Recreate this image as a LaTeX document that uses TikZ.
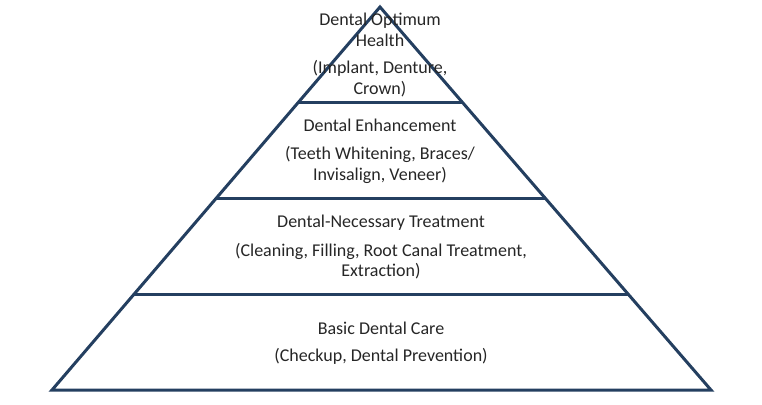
\documentclass[tikz,border=0pt]{standalone}
\usepackage{fontspec}
\setmainfont{Carlito}
\usetikzlibrary{calc}
\definecolor{pyrblue}{RGB}{36,63,96}
\begin{document}
\begin{tikzpicture}[x=1pt, y=-1pt,
  edge/.style = {draw=pyrblue, line width=3pt},
  tier/.style = {align=center, inner sep=0pt, text=black!85, font=\fontsize{18}{20.5}\selectfont}]
  \useasboundingbox (0,0) rectangle (762,404);

  % outline of the pyramid
  \coordinate (apex) at (380,7);
  \coordinate (bl) at (52,390);
  \coordinate (br) at (711,390);
  \draw[edge] (apex) -- (br) -- (bl) -- cycle;

  % tier borders
  \foreach \f/\n in {0.25/a, 0.5/b, 0.75/c} {
    \coordinate (l\n) at ($(bl)!\f!(apex)$);
    \coordinate (r\n) at ($(br)!\f!(apex)$);
    \draw[edge] (l\n) -- (r\n);
  }

  \node[tier] (optimum) at (380,55) {Dental Optimum\\Health\\[7pt](Implant, Denture,\\Crown)};
  \node[tier] (enhance) at (380,151) {Dental Enhancement\\[8pt](Teeth Whitening, Braces/\\Invisalign, Veneer)};
  \node[tier] (necessary) at (381,247) {Dental-Necessary Treatment\\[8pt](Cleaning, Filling, Root Canal Treatment,\\Extraction)};
  \node[tier] (basic) at (381,343) {Basic Dental Care\\[7pt](Checkup, Dental Prevention)};
\end{tikzpicture}
\end{document}
